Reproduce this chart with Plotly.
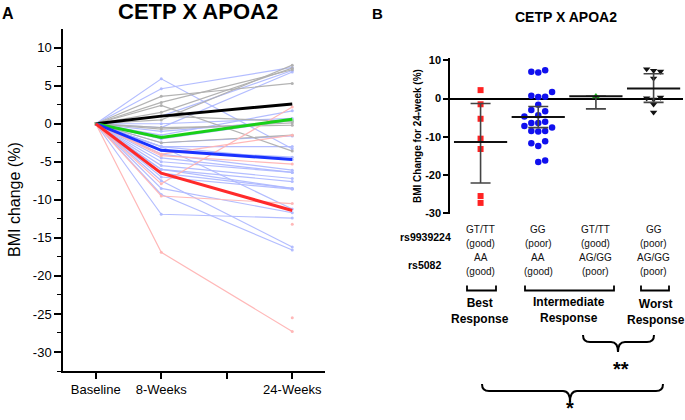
import plotly.graph_objects as go

W, H = 685, 420
FONT = "Arial, Liberation Sans, sans-serif"

# ---------------- data ----------------
time_tick_pos = [0, 1, 2, 3]
time_tick_labels = ["Baseline", "8-Weeks", "", "24-Weeks"]
obs_pos = [0, 1, 3]          # baseline, 8 weeks, 24 weeks

# individual BMI change (%) per subject: 8-week and 24-week values (baseline = 0)
red_8wk = [-7.9, -4.0, -4.2, -9.5, None, None, -16.9]
red_24wk = [2.2, -1.5, -5.3, -10.5, -13.2, -25.5, -27.3]
red_slot = [0, 0, 0, 0, 0, 0, 0]

blue_8wk = [4.6, 1.0, -0.5, -1.5, 0.0, -2.0, -1.0, -2.5, -3.0, 5.9, -3.5, -3.0, -4.0,
            -4.5, -5.0, -5.5, -6.0, -6.0, -6.5, -7.0, -3.0, -8.5, -11.9, -7.5, -9.3]
blue_24wk = [7.4, 7.0, 6.8, 1.7, 0.7, 0.45, 0.4, -1.6, -3.0, -3.3, -4.4, -4.7, -6.1,
             -6.4, -6.4, -7.2, -7.6, -8.5, -8.5, -8.6, -11.2, -11.7, -12.4, -16.2, -16.6]
blue_slot = [1, -1, 0, 2, -1, 1, 0, 0, -1, 1, 0, -2, 1, -1, 0, -2, 2, -1, 1, 0, 1, -1, 0, 1, 0]

green_8wk = [-1.8]
green_24wk = [0.5]
green_slot = [0]

gray_8wk = [3.6, 2.8, 2.4, 1.5, 0.5, 1.0, -0.7, -0.5, -2.5]
gray_24wk = [5.3, 7.1, -3.6, 7.3, 7.7, 0.3, 0.1, -0.2, -1.5]
gray_slot = [0, 1, 0, 0, -1, 1, -1, 0, 0]

# group means (panel A)
black_mean = [0, 1.0, 2.6]
green_mean = [0, -1.8, 0.6]
blue_mean = [0, -3.5, -4.7]
red_mean = [0, -6.5, -11.4]

# panel B summary (mean and 95% CI)
b_groups = [1, 2, 3, 4]
b_mean = [-11.4, -4.8, 0.6, 2.6]
b_ci_low = [-22.1, -7.6, -2.7, -1.0]
b_ci_high = [-1.3, -2.1, 0.6, 6.5]

a_yticks = [10, 5, 0, -5, -10, -15, -20, -25, -30]
a_yticklabels = ["10", "5", "0", "-5", "-10", "-15", "-20", "-25", "-30"]
b_yticks = [10, 0, -10, -20, -30]
b_yticklabels = ["10", "0", "-10", "-20", "-30"]

rs9939224_labels = ["GT/TT", "GG", "GT/TT", "GG"]
rs9939224_effect = ["(good)", "(poor)", "(good)", "(poor)"]
rs5082_labels = ["AA", "AA", "AG/GG", "AG/GG"]
rs5082_effect = ["(good)", "(good)", "(poor)", "(poor)"]

# ---------------- helpers ----------------
def px(x):
    return x / W

def py(y):
    return 1 - y / H

fig = go.Figure()

def spaghetti(w8, w24, color):
    xs, ys = [], []
    for a, b in zip(w8, w24):
        xs += obs_pos + [None]
        ys += [0, a, b, None]
    fig.add_trace(go.Scatter(x=xs, y=ys, mode="lines+markers", connectgaps=False,
                             line=dict(color=color, width=1.2),
                             marker=dict(size=3, color=color),
                             xaxis="x", yaxis="y", showlegend=False, hoverinfo="skip"))

spaghetti(blue_8wk, blue_24wk, "rgba(175,185,255,0.95)")
spaghetti(gray_8wk, gray_24wk, "rgba(175,175,175,0.95)")
spaghetti(red_8wk, red_24wk, "rgba(255,180,180,0.95)")
spaghetti(green_8wk, green_24wk, "rgba(160,235,160,0.95)")

for m, c in [(black_mean, "#000000"), (green_mean, "#18d018"),
             (blue_mean, "#1a32ff"), (red_mean, "#ff2a2a")]:
    fig.add_trace(go.Scatter(x=obs_pos, y=m, mode="lines", line=dict(color=c, width=3),
                             xaxis="x", yaxis="y", showlegend=False, hoverinfo="skip"))

# ---------------- panel B ----------------
slot_w = 0.12
def dots(g, vals, slots, symbol, color, size):
    fig.add_trace(go.Scatter(x=[g + s * slot_w for s in slots], y=vals, mode="markers",
                             marker=dict(symbol=symbol, color=color, size=size),
                             xaxis="x2", yaxis="y2", showlegend=False, hoverinfo="skip"))

dots(b_groups[0], red_24wk, red_slot, "square", "#ff2222", 6)
dots(b_groups[1], blue_24wk, blue_slot, "circle", "#1010ee", 6.5)
dots(b_groups[2], green_24wk, green_slot, "triangle-up", "#22bb22", 7)
dots(b_groups[3], gray_24wk, gray_slot, "triangle-down", "#111111", 6.5)

fig.add_trace(go.Scatter(
    x=b_groups, y=b_mean, mode="markers",
    marker=dict(symbol="line-ew", size=38, line=dict(width=2, color="#111111")),
    error_y=dict(type="data", symmetric=False,
                 array=[h - m for h, m in zip(b_ci_high, b_mean)],
                 arrayminus=[m - l for l, m in zip(b_ci_low, b_mean)],
                 color="#444444", thickness=1.6, width=10),
    xaxis="x2", yaxis="y2", showlegend=False, hoverinfo="skip"))

# ---------------- layout ----------------
axis_common = dict(showgrid=False, zeroline=False, showline=True, linecolor="black",
                   linewidth=1.5, ticks="outside", tickcolor="black", automargin=False)

fig.update_layout(
    width=W, height=H, margin=dict(l=0, r=0, t=0, b=0),
    paper_bgcolor="white", plot_bgcolor="white",
    font=dict(family=FONT, color="black"),
    xaxis=dict(axis_common, domain=[px(63), px(325)], range=[-0.5, 3.5], anchor="y",
               tickvals=time_tick_pos, ticktext=time_tick_labels, ticklen=6,
               tickwidth=1.5, tickfont=dict(size=13)),
    yaxis=dict(axis_common, domain=[py(371), py(29)], range=[-32.5, 12.45], anchor="x",
               tickvals=a_yticks, ticktext=a_yticklabels, ticklen=7, tickwidth=1.5,
               tickfont=dict(size=13),
               minor=dict(dtick=2.5, tick0=0, ticks="outside", ticklen=4,
                          tickcolor="black", tickwidth=1.2)),
    xaxis2=dict(domain=[px(450), px(683)], range=[0.47, 4.51], anchor="y2",
                showgrid=False, zeroline=False, showline=False, showticklabels=False,
                ticks="", automargin=False),
    yaxis2=dict(axis_common, domain=[py(214), py(58)], range=[-30.2, 10.6], anchor="x2",
                zeroline=True, zerolinecolor="black", zerolinewidth=2,
                tickvals=b_yticks, ticktext=b_yticklabels, ticklen=5, tickwidth=1.5,
                tickfont=dict(size=11, weight="bold")),
)

ann = []
def text(x, y, s, size, bold=False, **kw):
    ann.append(dict(x=px(x), y=py(y), xref="paper", yref="paper", text=s,
                    showarrow=False, font=dict(size=size, family=FONT, color="black",
                                               weight="bold" if bold else "normal"),
                    xanchor=kw.pop("xanchor", "center"), yanchor=kw.pop("yanchor", "middle"),
                    **kw))

text(8, 14, "A", 16, True)
text(198, 11, "CETP X APOA2", 22, True)
text(14, 200, "BMI change (%)", 16, textangle=-90)

text(377, 13, "B", 15, True)
text(566, 17, "CETP X APOA2", 14, True)
text(418, 136, "BMI Change for 24-week (%)", 10, True, textangle=-90)

text(425, 237, "rs9939224", 10.5, True)
text(424, 265, "rs5082", 10.5, True)

for g, a, b, c, d in zip(b_groups, rs9939224_labels, rs9939224_effect,
                         rs5082_labels, rs5082_effect):
    for s, yy in [(a, 229.5), (b, 243.5), (c, 257.5), (d, 271.5)]:
        ann.append(dict(x=g, y=py(yy), xref="x2", yref="paper", text=s, showarrow=False,
                        font=dict(size=10, family=FONT, color="#111111")))

text(480, 311, "Best<br>Response", 12, True)
text(569, 310, "Intermediate<br>Response", 12, True)
text(656, 312, "Worst<br>Response", 12, True)
text(621, 369, "**", 20, True)
text(570, 419.5, "*", 20, True, yanchor="bottom", borderpad=0)

fig.update_layout(annotations=ann)

shapes = []
def bracket(x0, x1, ytop, ybot):
    p = f"M {px(x0)},{py(ytop)} L {px(x0)},{py(ybot)} L {px(x1)},{py(ybot)} L {px(x1)},{py(ytop)}"
    shapes.append(dict(type="path", path=p, xref="paper", yref="paper",
                       line=dict(color="black", width=1.8)))

def brace(x0, x1, xc, ytop, ymid, ybot, r=7):
    pts = [
        f"M {px(x0)},{py(ytop)}",
        f"Q {px(x0)},{py(ymid)} {px(x0 + r)},{py(ymid)}",
        f"L {px(xc - r)},{py(ymid)}",
        f"Q {px(xc)},{py(ymid)} {px(xc)},{py(ybot)}",
        f"Q {px(xc)},{py(ymid)} {px(xc + r)},{py(ymid)}",
        f"L {px(x1 - r)},{py(ymid)}",
        f"Q {px(x1)},{py(ymid)} {px(x1)},{py(ytop)}",
    ]
    shapes.append(dict(type="path", path=" ".join(pts), xref="paper", yref="paper",
                       line=dict(color="black", width=2)))

bracket(467, 496, 285.5, 290.5)
bracket(525, 614, 285.5, 290.5)
bracket(641, 669, 285.5, 290.5)
brace(583, 654, 618, 335, 342, 352)
brace(482, 663, 570, 384, 391, 402)

fig.update_layout(shapes=shapes)

fig.write_html("out.html", config={"displayModeBar": False},
               post_script="document.body.style.margin='0px';")
